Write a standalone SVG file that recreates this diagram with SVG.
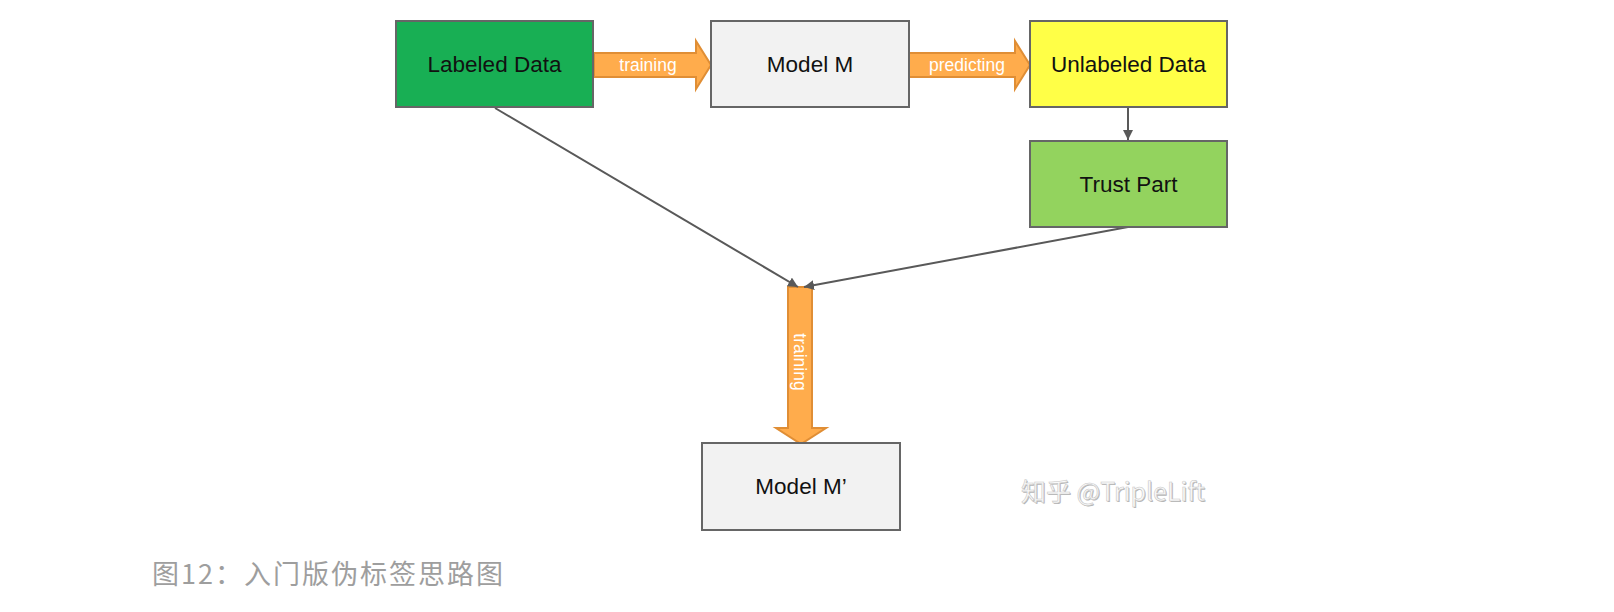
<svg xmlns="http://www.w3.org/2000/svg" width="1614" height="612" viewBox="0 0 1614 612">
<style>
.box{stroke:#666;stroke-width:2}
.lbl{font-family:"Liberation Sans",Arial,sans-serif;font-size:22.5px;fill:#111;text-anchor:middle}
.fat{fill:#FFAC4C;stroke:#E08E35;stroke-width:2;stroke-linejoin:miter}
.fatlbl{font-family:"Liberation Sans",Arial,sans-serif;font-size:17.5px;fill:#fff;text-anchor:middle}
.conn{stroke:#595959;stroke-width:2;fill:none}
.wm{font-family:"Noto Sans CJK SC","Liberation Sans",sans-serif;font-size:25px}
</style>
<defs>
<marker id="ah" viewBox="0 0 10 10" refX="10" refY="5" markerWidth="5" markerHeight="5" orient="auto" markerUnits="strokeWidth">
<path d="M0,0 L10,5 L0,10 z" fill="#595959"/>
</marker>
</defs>
<rect width="1614" height="612" fill="#fff"/>
<g id="connectors">
<path id="arrow-training" class="fat" d="M594,53 H696 V41 L711,65 L696,89 V77 H594 Z"/>
<text class="fatlbl" x="648" y="71">training</text>
<path id="arrow-predicting" class="fat" d="M909,53 H1015 V41 L1030,65 L1015,89 V77 H909 Z"/>
<text class="fatlbl" x="967" y="71">predicting</text>
<path id="arrow-training2" class="fat" d="M788,287 H812 V428 H826 L801,444 L776,428 H788 Z"/>
<text class="fatlbl" transform="translate(794,362) rotate(90)">training</text>
<line class="conn" x1="1128" y1="108" x2="1128" y2="140" marker-end="url(#ah)"/>
<line class="conn" x1="495" y1="108" x2="798" y2="287" marker-end="url(#ah)"/>
<line class="conn" x1="1128" y1="227" x2="804" y2="287" marker-end="url(#ah)"/>
</g>
<g id="labeled-data">
<rect class="box" x="396" y="21" width="197" height="86" fill="#18AF54"/>
<text class="lbl" x="494.5" y="72">Labeled Data</text>
</g>
<g id="model-m">
<rect class="box" x="711" y="21" width="198" height="86" fill="#F2F2F2"/>
<text class="lbl" x="810" y="72">Model M</text>
</g>
<g id="unlabeled-data">
<rect class="box" x="1030" y="21" width="197" height="86" fill="#FFFF47"/>
<text class="lbl" x="1128.5" y="72">Unlabeled Data</text>
</g>
<g id="trust-part">
<rect class="box" x="1030" y="141" width="197" height="86" fill="#93D35E"/>
<text class="lbl" x="1128.5" y="192">Trust Part</text>
</g>
<g id="model-m-prime">
<rect class="box" x="702" y="443" width="198" height="87" fill="#F2F2F2"/>
<text class="lbl" x="801" y="494">Model M’</text>
</g>
<g id="watermark">
<text class="wm" x="1022" y="502" fill="#b5b5b5">知乎 @TripleLift</text>
<text class="wm" x="1021" y="501" fill="#fafafa" stroke="#c8c8c8" stroke-width="0.6">知乎 @TripleLift</text>
</g>
<text id="caption" x="152" y="584" font-family="'Noto Sans CJK SC','Liberation Sans',sans-serif" font-size="27" letter-spacing="2" fill="#9e9e9e">图12：入门版伪标签思路图</text>
</svg>
